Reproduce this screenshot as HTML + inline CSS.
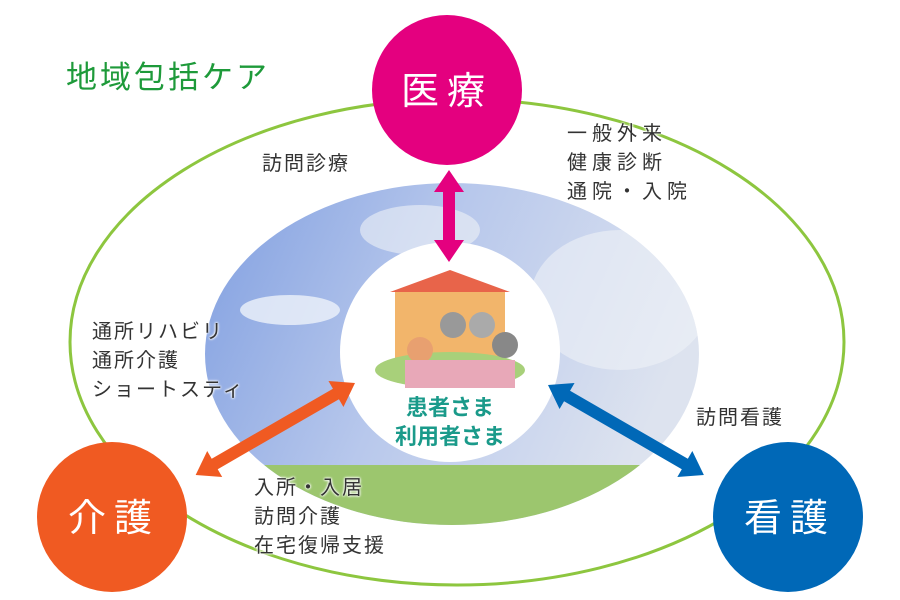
<!DOCTYPE html>
<html><head><meta charset="utf-8"><style>
body{margin:0;width:900px;height:600px;background:#fff;overflow:hidden;position:relative;font-family:"Liberation Sans","Noto Sans CJK JP",sans-serif}
.t{position:absolute;color:#333;font-size:20px;line-height:29px;letter-spacing:2px;text-shadow:0 0 2px #fff,0 0 2px #fff,0 0 3px #fff}
</style></head><body>
<svg width="900" height="600" style="position:absolute;left:0;top:0">
<defs>
<linearGradient id="sky" x1="0" y1="0" x2="1" y2="0.3">
<stop offset="0" stop-color="#7f9ee0"/><stop offset="0.5" stop-color="#b8c8ec"/><stop offset="1" stop-color="#dde3ef"/></linearGradient>
<clipPath id="c"><ellipse cx="452" cy="354" rx="247" ry="171"/></clipPath>
</defs>
<ellipse cx="457" cy="342" rx="387" ry="243" fill="none" stroke="#8dc63f" stroke-width="3"/>
<g clip-path="url(#c)">
<rect x="200" y="180" width="510" height="350" fill="url(#sky)"/>
<ellipse cx="290" cy="310" rx="50" ry="15" fill="#eef2fa" opacity=".8"/>
<ellipse cx="620" cy="300" rx="90" ry="70" fill="#eef1f7" opacity=".6"/>
<ellipse cx="420" cy="230" rx="60" ry="25" fill="#eef1f7" opacity=".6"/>
<rect x="200" y="465" width="510" height="70" fill="#9cc66e"/>
</g>
<circle cx="450" cy="352" r="110" fill="#fff"/>
<rect x="395" y="290" width="110" height="70" fill="#f2b56b"/>
<polygon points="390,292 450,270 510,292" fill="#e8644a"/>
<ellipse cx="450" cy="370" rx="75" ry="18" fill="#a8d07a"/>
<circle cx="420" cy="350" r="13" fill="#e8a070"/><circle cx="453" cy="325" r="13" fill="#999"/><circle cx="482" cy="325" r="13" fill="#aaa"/><circle cx="505" cy="345" r="13" fill="#888"/>
<rect x="405" y="360" width="110" height="28" fill="#e8a8b8"/>
<g fill="#e4007f"><polygon points="449,170 464,192 455,192 455,240 464,240 449,262 434,240 443,240 443,192 434,192"/></g>
<g fill="#f05a22" transform="translate(355,383) rotate(150)"><polygon points="0,0 22,15 22,6 162,6 162,15 184,0 162,-15 162,-6 22,-6 22,-15"/></g>
<g fill="#0068b7" transform="translate(548,385) rotate(30)"><polygon points="0,0 22,15 22,6 158,6 158,15 180,0 158,-15 158,-6 22,-6 22,-15"/></g>
<circle cx="447" cy="90" r="75" fill="#e4007f"/>
<circle cx="112" cy="517" r="75" fill="#f05a22"/>
<circle cx="788" cy="517" r="75" fill="#0068b7"/>
<text x="447" y="104" font-size="38" fill="#fff" text-anchor="middle" letter-spacing="8" font-family="Noto Sans CJK JP">医療</text>
<text x="114" y="531" font-size="38" fill="#fff" text-anchor="middle" letter-spacing="8" font-family="Noto Sans CJK JP">介護</text>
<text x="790" y="531" font-size="38" fill="#fff" text-anchor="middle" letter-spacing="8" font-family="Noto Sans CJK JP">看護</text>
<text x="450" y="415" font-size="22" fill="#1a9a8a" text-anchor="middle" font-weight="bold" font-family="Noto Sans CJK JP">患者さま</text>
<text x="450" y="444" font-size="22" fill="#1a9a8a" text-anchor="middle" font-weight="bold" font-family="Noto Sans CJK JP">利用者さま</text>
<text x="66" y="88" font-size="31" fill="#1e9a3a" letter-spacing="3" font-family="Noto Sans CJK JP">地域包括ケア</text>
</svg>
<div class="t" style="left:262px;top:150px">訪問診療</div>
<div class="t" style="left:567px;top:120px;letter-spacing:5px">一般外来<br>健康診断<br>通院・入院</div>
<div class="t" style="left:92px;top:318px">通所リハビリ<br>通所介護<br>ショートスティ</div>
<div class="t" style="left:696px;top:404px">訪問看護</div>
<div class="t" style="left:254px;top:474px">入所・入居<br>訪問介護<br>在宅復帰支援</div>
</body></html>
